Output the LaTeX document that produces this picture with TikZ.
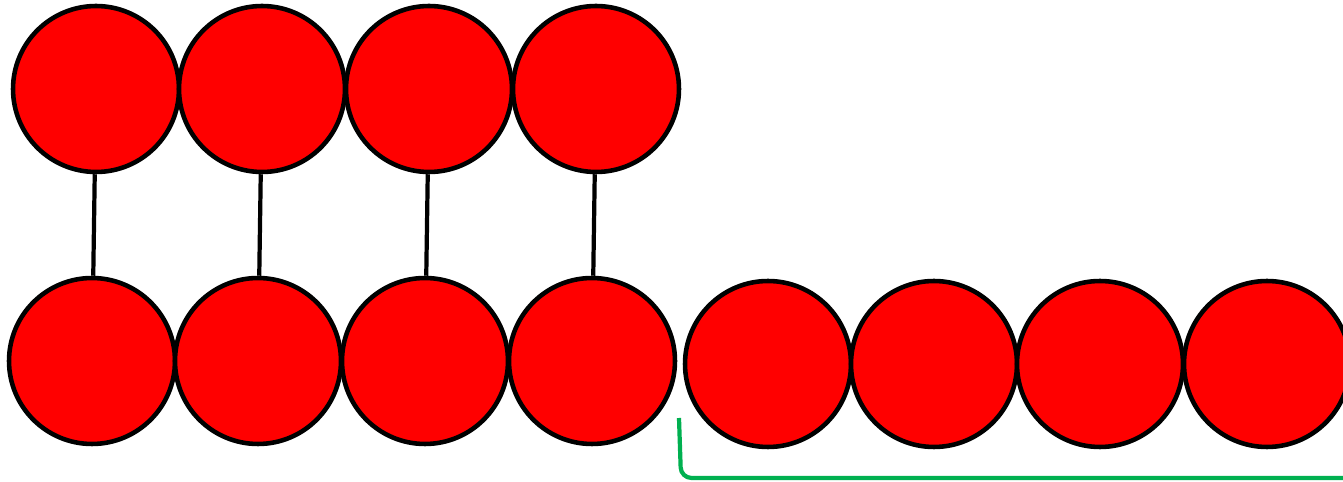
\documentclass[tikz,border=0pt]{standalone}
\usepackage{tikz}

\begin{document}
\begin{tikzpicture}[x=0.02cm,y=-0.02cm,
  ball/.style={circle,draw=black,fill=red,line width=2.6pt,inner sep=0pt,minimum size=3.32cm},
  link/.style={line width=2.4pt},
  brace/.style={draw={rgb,255:red,0;green,176;blue,80},line width=2.4pt,rounded corners=6pt}]
  \useasboundingbox (0,0) rectangle (1343,482);
  % upper row
  \node[ball] (t1) at (96,89) {};
  \node[ball] (t2) at (262,89) {};
  \node[ball] (t3) at (429,89) {};
  \node[ball] (t4) at (596,89) {};
  % lower row
  \node[ball] (b1) at (92,361) {};
  \node[ball] (b2) at (258,361) {};
  \node[ball] (b3) at (425,361) {};
  \node[ball] (b4) at (592,361) {};
  \node[ball] (r1) at (768,364) {};
  \node[ball] (r2) at (934,364) {};
  \node[ball] (r3) at (1100,364) {};
  \node[ball] (r4) at (1267,364) {};
  \foreach \i in {1,...,4}
    \draw[link] (t\i) -- (b\i);
  \coordinate (gs) at (679,418);
  \coordinate (gc) at (681,478);
  \coordinate (ge) at (1343,478);
  \draw[brace] (gs) -- (gc) -- (ge);
\end{tikzpicture}
\end{document}
